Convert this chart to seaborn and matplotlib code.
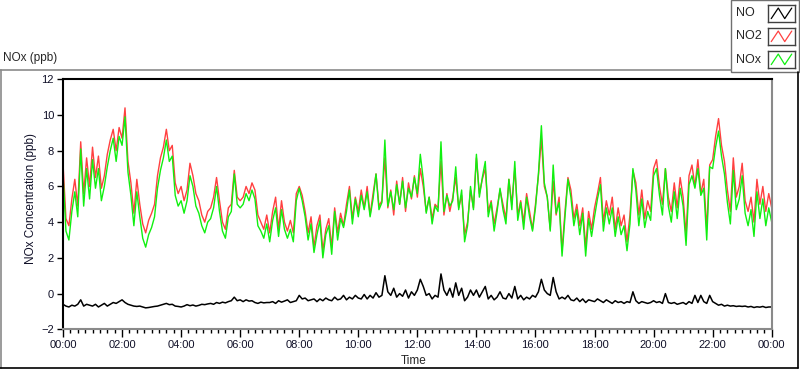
import numpy as np
import pandas as pd
import matplotlib
matplotlib.use("Agg")
import matplotlib.pyplot as plt
from matplotlib.lines import Line2D
from matplotlib.patches import Rectangle
from matplotlib.ticker import FixedLocator
import seaborn as sns

# ---- data: 6-minute samples, one row per hour ----
no2_rows = [
    [7.3, 4.2, 3.8, 5.3, 6.4, 4.9, 8.5, 5.6, 7.6, 6.0],
    [8.2, 6.5, 7.7, 5.9, 6.6, 7.8, 8.6, 9.2, 8.0, 9.3],
    [8.7, 10.4, 7.4, 6.2, 4.5, 6.4, 5.0, 3.9, 3.4, 4.1],
    [4.5, 5.0, 6.6, 7.6, 8.2, 9.2, 8.0, 8.3, 6.2, 5.6],
    [6.0, 5.2, 5.8, 7.3, 6.6, 5.6, 5.2, 4.4, 4.0, 4.6],
    [4.8, 5.4, 6.5, 5.2, 4.0, 3.6, 4.8, 5.0, 6.9, 5.4],
    [5.2, 5.4, 6.0, 5.6, 6.2, 5.8, 4.4, 4.0, 3.6, 4.4],
    [3.4, 4.6, 5.4, 3.6, 5.2, 4.0, 3.5, 4.1, 3.4, 5.6],
    [6.0, 5.5, 4.6, 3.4, 4.3, 2.6, 3.8, 4.4, 2.4, 3.6],
    [4.2, 2.6, 4.8, 3.4, 4.5, 3.8, 5.0, 6.0, 4.2, 5.4],
    [4.6, 5.8, 4.8, 6.0, 4.4, 5.6, 6.7, 4.9, 5.2, 7.6],
    [4.8, 5.8, 4.4, 6.3, 5.0, 6.5, 4.6, 6.2, 5.3, 6.6],
    [5.4, 7.0, 6.0, 4.6, 5.4, 4.2, 5.0, 4.8, 7.4, 4.4],
    [5.6, 4.6, 5.4, 6.5, 4.8, 5.5, 3.3, 4.0, 5.8, 4.8],
    [7.6, 5.6, 6.4, 7.0, 4.6, 5.2, 3.9, 4.8, 5.8, 5.0],
    [4.2, 6.4, 5.0, 7.0, 4.4, 5.2, 4.0, 5.6, 4.6, 3.6],
    [5.0, 6.6, 8.7, 6.0, 5.4, 3.6, 6.3, 4.4, 5.4, 2.4],
    [4.6, 6.5, 5.8, 4.2, 5.0, 3.8, 4.8, 2.6, 4.6, 3.6],
    [4.8, 5.6, 6.5, 4.0, 5.2, 4.4, 5.4, 3.6, 4.8, 3.8],
    [4.4, 2.9, 4.4, 6.9, 6.2, 4.4, 5.8, 4.2, 5.2, 4.6],
    [7.0, 7.5, 6.0, 5.0, 7.0, 5.4, 4.6, 6.2, 4.8, 6.5],
    [5.4, 3.3, 6.6, 7.2, 6.0, 7.5, 5.6, 6.4, 3.6, 7.2],
    [7.5, 8.8, 9.8, 8.3, 7.4, 5.8, 4.6, 7.6, 5.4, 6.0],
    [7.3, 5.2, 4.6, 5.4, 4.0, 6.4, 5.0, 6.0, 4.6, 5.6],
    [4.8],
]
no_rows = [
    [-0.6, -0.7, -0.75, -0.65, -0.7, -0.6, -0.35, -0.7, -0.6, -0.65],
    [-0.7, -0.6, -0.75, -0.65, -0.55, -0.7, -0.6, -0.5, -0.55, -0.45],
    [-0.35, -0.5, -0.6, -0.65, -0.7, -0.72, -0.7, -0.75, -0.8, -0.78],
    [-0.75, -0.72, -0.7, -0.65, -0.6, -0.55, -0.62, -0.6, -0.7, -0.72],
    [-0.75, -0.7, -0.62, -0.68, -0.64, -0.7, -0.66, -0.6, -0.62, -0.58],
    [-0.55, -0.6, -0.5, -0.55, -0.48, -0.52, -0.45, -0.4, -0.2, -0.4],
    [-0.35, -0.45, -0.35, -0.42, -0.4, -0.5, -0.55, -0.48, -0.52, -0.5],
    [-0.5, -0.45, -0.55, -0.4, -0.48, -0.42, -0.35, -0.5, -0.45, -0.4],
    [-0.1, -0.3, -0.25, -0.4, -0.35, -0.3, -0.45, -0.3, -0.4, -0.25],
    [-0.35, -0.4, -0.2, -0.35, -0.3, -0.1, -0.35, -0.2, -0.3, -0.1],
    [-0.25, -0.3, -0.05, -0.3, -0.1, -0.25, 0.05, -0.2, -0.1, 1.0],
    [0.1, -0.1, 0.3, -0.2, 0.0, -0.15, 0.2, -0.25, 0.1, -0.1],
    [0.2, 0.8, 0.4, -0.1, 0.0, -0.3, -0.1, -0.2, 1.1, 0.2],
    [-0.1, 0.3, -0.2, 0.6, -0.1, 0.3, -0.4, -0.2, 0.2, -0.1],
    [0.2, -0.2, 0.1, 0.4, -0.3, -0.1, -0.35, -0.2, 0.1, -0.25],
    [-0.3, 0.0, -0.25, 0.4, -0.3, -0.1, -0.35, -0.2, -0.3, -0.1],
    [-0.2, 0.1, 0.8, 0.2, 0.0, -0.1, 0.9, 0.1, -0.3, -0.2],
    [-0.3, -0.1, -0.35, -0.4, -0.25, -0.45, -0.3, -0.5, -0.35, -0.4],
    [-0.45, -0.3, -0.4, -0.5, -0.35, -0.45, -0.55, -0.4, -0.5, -0.45],
    [-0.55, -0.45, -0.5, 0.1, -0.4, -0.55, -0.45, -0.5, -0.55, -0.5],
    [-0.4, -0.5, -0.45, -0.55, 0.0, -0.5, -0.55, -0.5, -0.6, -0.55],
    [-0.5, -0.6, -0.45, -0.55, -0.1, -0.5, -0.1, -0.45, -0.55, -0.1],
    [-0.45, -0.55, -0.65, -0.6, -0.7, -0.65, -0.7, -0.68, -0.72, -0.7],
    [-0.72, -0.7, -0.75, -0.72, -0.78, -0.74, -0.76, -0.72, -0.78, -0.75],
    [-0.75],
]
nox_rows = [
    [6.7, 3.5, 3.0, 4.6, 5.7, 4.3, 8.1, 4.9, 7.0, 5.3],
    [7.5, 5.9, 7.0, 5.2, 6.0, 7.1, 8.0, 8.7, 7.4, 8.8],
    [8.3, 9.9, 6.8, 5.5, 3.8, 5.7, 4.3, 3.1, 2.6, 3.3],
    [3.7, 4.3, 5.9, 6.9, 7.6, 8.6, 7.4, 7.7, 5.5, 4.9],
    [5.2, 4.5, 5.2, 6.6, 6.0, 4.9, 4.5, 3.8, 3.4, 4.0],
    [4.2, 4.8, 6.0, 4.6, 3.5, 3.1, 4.3, 4.6, 6.7, 5.0],
    [4.8, 5.0, 5.6, 5.2, 5.8, 5.3, 3.8, 3.5, 3.1, 3.9],
    [2.9, 4.1, 4.8, 3.2, 4.7, 3.6, 3.1, 3.6, 2.9, 5.2],
    [5.9, 5.2, 4.3, 3.0, 3.9, 2.3, 3.3, 4.1, 2.0, 3.3],
    [3.8, 2.2, 4.6, 3.0, 4.2, 3.7, 4.6, 5.8, 3.9, 5.3],
    [4.3, 5.5, 4.7, 5.7, 4.3, 5.3, 6.7, 4.7, 5.1, 8.6],
    [4.9, 5.7, 4.7, 6.1, 5.0, 6.3, 4.8, 5.9, 5.4, 6.5],
    [5.6, 7.8, 6.4, 4.5, 5.4, 3.9, 4.9, 4.6, 8.5, 4.6],
    [5.5, 4.9, 5.2, 7.1, 4.7, 5.8, 2.9, 3.8, 6.0, 4.7],
    [7.8, 5.4, 6.5, 7.4, 4.3, 5.1, 3.5, 4.6, 5.9, 4.7],
    [3.9, 6.4, 4.7, 7.4, 4.1, 5.1, 3.6, 5.4, 4.3, 3.5],
    [4.8, 6.7, 9.4, 6.2, 5.4, 3.5, 7.2, 4.5, 5.1, 2.1],
    [4.3, 6.4, 5.4, 3.8, 4.7, 3.3, 4.5, 2.1, 4.2, 3.2],
    [4.3, 5.3, 6.1, 3.5, 4.8, 3.9, 4.8, 3.2, 4.3, 3.3],
    [3.8, 2.4, 3.9, 7.0, 5.8, 3.8, 5.3, 3.7, 4.6, 4.1],
    [6.6, 7.0, 5.5, 4.4, 7.0, 4.9, 4.0, 5.7, 4.2, 5.9],
    [4.9, 2.7, 6.1, 6.6, 5.9, 7.0, 5.5, 5.9, 3.0, 7.1],
    [7.0, 8.2, 9.1, 7.7, 6.7, 5.1, 3.9, 6.9, 4.7, 5.3],
    [6.6, 4.5, 3.8, 4.7, 3.2, 5.7, 4.2, 5.3, 3.8, 4.8],
    [4.0],
]
series_names = ["NO", "NO2", "NOx"]
series_colors = ["#000000", "#FF4040", "#10F010"]
tick_hours = [0, 2, 4, 6, 8, 10, 12, 14, 16, 18, 20, 22, 24]
tick_labels = ["00:00", "02:00", "04:00", "06:00", "08:00", "10:00", "12:00",
               "14:00", "16:00", "18:00", "20:00", "22:00", "00:00"]
y_ticks = [-2, 0, 2, 4, 6, 8, 10, 12]

no2 = [v for r in no2_rows for v in r]
no = [v for r in no_rows for v in r]
nox = [v for r in nox_rows for v in r]
hours = np.arange(len(no2)) / 10.0  # 6-minute sampling

df = pd.DataFrame({"hours": hours, "NO": no, "NO2": no2, "NOx": nox})

sns.set_style("white")
plt.rcParams["font.family"] = ["Liberation Sans", "DejaVu Sans"]
FS = 8
W, H = 800, 369
fig = plt.figure(figsize=(8.0, 3.69), dpi=100)
fig.patch.set_facecolor("white")

def fx(px):
    return px / W

def fy(py):
    return 1 - py / H

ax_h_px = 329.3 - 79.3
ax = fig.add_axes([fx(63), fy(329.3), fx(771.7) - fx(63), fy(79.3) - fy(329.3)])
widths = [1.1, 1.0, 1.0]
for name, col, lw in zip(series_names, series_colors, widths):
    sns.lineplot(data=df, x="hours", y=name, color=col, linewidth=lw,
                 estimator=None, ax=ax)

ax.set_xlim(0, 24)
ax.set_ylim(-2, 12)
ax.xaxis.set_major_locator(FixedLocator(tick_hours))
ax.set_xticklabels(tick_labels)
ax.yaxis.set_major_locator(FixedLocator(y_ticks))
ax.tick_params(axis="x", which="major", direction="out", length=5.5, width=1,
               pad=2.5, labelsize=FS, color="black", labelcolor="#101028",
               bottom=True)
ax.tick_params(axis="y", which="major", direction="out", length=4, width=1,
               pad=2.5, labelsize=FS, color="black", labelcolor="#101028",
               left=True)
# minor ticks every 15 minutes (drawn below the axis)
minor_pos = [q / 4 for q in range(0, 97) if q % 8 != 0]
ax.vlines(minor_pos, -4.0 / ax_h_px, 0, transform=ax.get_xaxis_transform(),
          colors="black", linewidth=1.0, clip_on=False)
ax.set_xlabel("")
ax.set_ylabel("")
for s in ["left", "top"]:
    ax.spines[s].set_color("black")
    ax.spines[s].set_linewidth(1.5)
for s in ["right", "bottom"]:
    ax.spines[s].set_color("#8a8a8a")
    ax.spines[s].set_linewidth(1.5)

# labels
fig.text(fx(3), fy(58), "NOx (ppb)", fontsize=FS + 0.5, ha="left", va="center")
fig.text(fx(414), fy(361), "Time", fontsize=FS + 0.5, ha="center", va="center")
fig.text(fx(31), fy(199), "NOx Concentration (ppb)", fontsize=FS + 0.5,
         rotation=90, ha="center", va="center", color="#101028")

# outer frame
fig.add_artist(Line2D([fx(0), fx(731)], [fy(69.5), fy(69.5)], color="#8a8a8a", lw=1.2))
fig.add_artist(Line2D([fx(0.8), fx(0.8)], [fy(69.5), fy(367.5)], color="#8a8a8a", lw=1.2))
fig.add_artist(Line2D([fx(0), fx(798)], [fy(367.5), fy(367.5)], color="black", lw=1.2))
fig.add_artist(Line2D([fx(798), fx(798)], [fy(72), fy(367.5)], color="black", lw=1.2))

# legend panel
fig.add_artist(Rectangle((fx(730.5), fy(71.5)), fx(799) - fx(730.5), fy(0) - fy(71.5),
                         transform=fig.transFigure, facecolor="none",
                         edgecolor="#707070", lw=1.0))
legend_rows = [(13, 5, 22), (36, 28, 45), (60, 51, 68)]
for (ty, top, bot), name, col in zip(legend_rows, series_names, series_colors):
    fig.text(fx(736), fy(ty), name, fontsize=FS + 1, ha="left", va="center")
    sax = fig.add_axes([fx(768), fy(bot), fx(795) - fx(768), fy(top) - fy(bot)])
    sax.plot([0.12, 0.38, 0.62, 0.88], [0.2, 0.82, 0.2, 0.82], color=col, lw=0.9)
    sax.set_xlim(0, 1)
    sax.set_ylim(0, 1)
    sax.set_xticks([])
    sax.set_yticks([])
    for s in sax.spines.values():
        s.set_color("#404040")
        s.set_linewidth(1.0)

fig.savefig("out.png", dpi=100)
